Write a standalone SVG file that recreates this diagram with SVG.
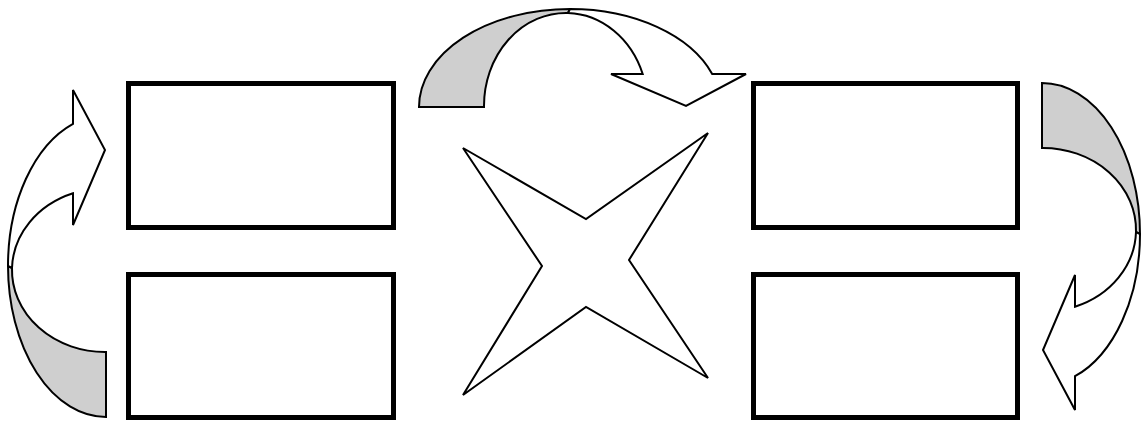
<svg xmlns="http://www.w3.org/2000/svg" width="1143" height="421" viewBox="0 0 1143 421">
  <defs>
    <style>
      .box { fill: #ffffff; stroke: #000000; stroke-width: 5; }
      .arw { fill: #ffffff; stroke: #000000; stroke-width: 2; stroke-linejoin: miter; }
      .back { fill: #cfcfcf; stroke: #000000; stroke-width: 2; stroke-linejoin: miter; }
      .star { fill: #ffffff; stroke: #000000; stroke-width: 2; stroke-linejoin: miter; }
    </style>
    <g id="curved">
      <path class="back" d="M8,266 A98,151 0 0 0 106,417 L106,352 A93,82 0 0 1 12,268 Z"/>
      <path class="arw" d="M73,90 L105,150 L73,225 L73,193.3 A93,82 0 0 0 12,268 L8,266 A98,151 0 0 1 73,123.8 Z"/>
    </g>
  </defs>
  <rect width="1143" height="421" fill="#ffffff"/>
  <g id="box-top-left"><rect class="box" x="128.5" y="83.5" width="265" height="144"/></g>
  <g id="box-bottom-left"><rect class="box" x="128.5" y="274.5" width="265" height="143"/></g>
  <g id="box-top-right"><rect class="box" x="753.5" y="83.5" width="264" height="144"/></g>
  <g id="box-bottom-right"><rect class="box" x="753.5" y="274.5" width="264" height="143"/></g>
  <g id="star">
    <polygon class="star" points="463,148 586,219 708,133 629,260 708,378 586,307 463,395 542,266"/>
  </g>
  <g id="connectors">
    <g id="arrow-left"><use href="#curved"/></g>
    <g id="arrow-top"><use href="#curved" transform="translate(836,1) rotate(90)"/></g>
    <g id="arrow-right"><use href="#curved" transform="rotate(180,574,250)"/></g>
  </g>
</svg>
